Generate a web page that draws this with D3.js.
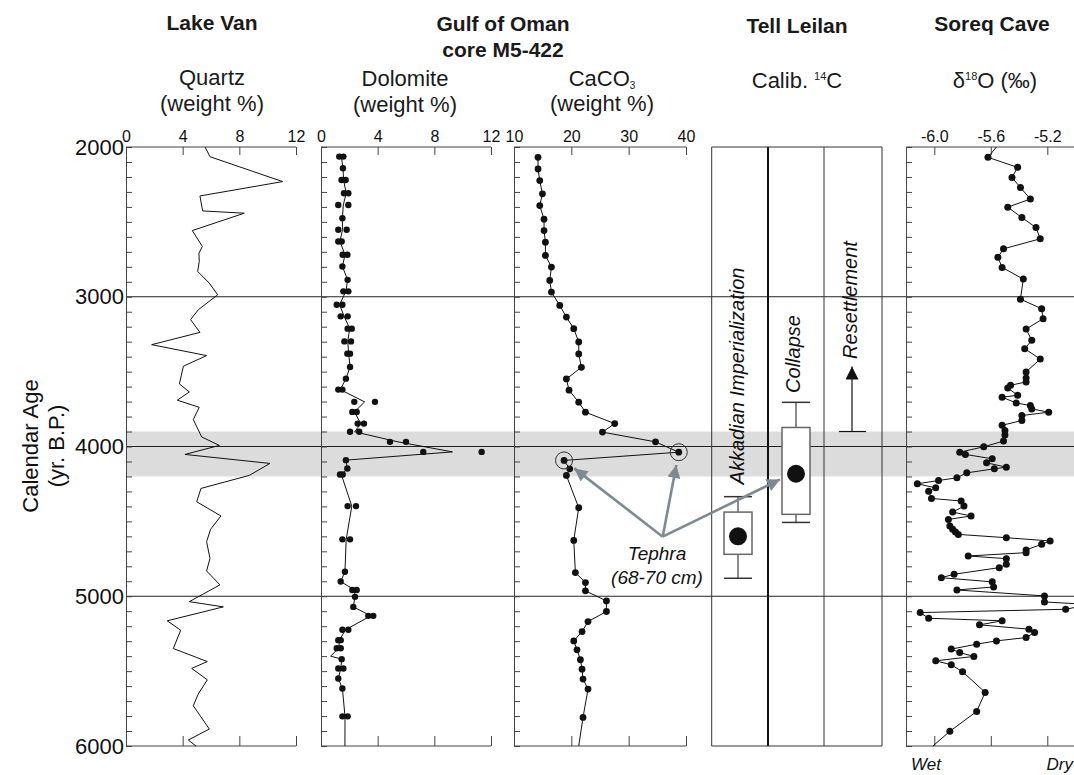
<!DOCTYPE html>
<html lang="en">
<head>
<meta charset="utf-8">
<title>Lake Van, Gulf of Oman, Tell Leilan, Soreq Cave</title>
<style>
  body { margin: 0; background: #fff; }
  svg { font-family: Arial, "Liberation Sans", sans-serif; }
</style>
</head>
<body>
<div id="chart"></div>
<script src="https://d3js.org/d3.v7.min.js"></script>
<script>
// ---- values (age in yr B.P.) ----
var ageLabels = [2000, 3000, 4000, 5000, 6000];
var ageMinor = d3.range(2000, 6001, 100);
var ageGuides = [3000, 4000, 5000];
var event42 = [3900, 4200];

// Lake Van quartz (line only)
var quartzAge = [2000, 2065, 2231, 2327, 2427, 2442, 2558, 2664, 2709, 2764, 2831, 2909, 2987, 3087, 3153, 3238, 3320, 3393, 3464, 3582, 3636, 3691, 3738, 3820, 3936, 3993, 4053, 4113, 4193, 4280, 4369, 4464, 4553, 4636, 4747, 4831, 4924, 5036, 5071, 5164, 5227, 5349, 5436, 5482, 5558, 5653, 5731, 5887, 5960, 6000];
var quartzPct = [5.58, 5.93, 11.06, 5.22, 5.41, 8.35, 4.68, 5.39, 5.15, 5.17, 5.06, 5.88, 6.47, 5.10, 4.56, 5.22, 1.81, 5.69, 4.05, 3.77, 4.47, 3.62, 5.17, 4.75, 5.34, 6.59, 4.16, 10.16, 8.70, 5.29, 4.99, 6.70, 5.97, 5.69, 5.93, 5.69, 6.63, 4.47, 6.87, 2.91, 3.86, 3.34, 5.74, 4.64, 5.74, 5.10, 4.75, 5.88, 4.40, 4.94];

// Gulf of Oman dolomite: two measurements per depth (null = single)
var dolAge = [2064, 2142, 2220, 2309, 2387, 2476, 2553, 2631, 2720, 2798, 2887, 2964, 3053, 3131, 3213, 3298, 3380, 3469, 3547, 3620, 3702, 3769, 3847, 3902, 3969, 4036, 4091, 4147, 4187, 4398, 4620, 4836, 4902, 4958, 5004, 5071, 5131, 5224, 5293, 5347, 5420, 5482, 5549, 5616, 5802];
var dolA = [1.29, 1.55, 1.45, 1.62, 1.22, 1.51, 1.22, 1.22, 1.53, 1.51, 1.88, 1.58, 1.11, 1.39, 1.88, 1.65, 1.86, 2.05, 1.76, 1.22, 2.35, 2.21, 2.59, 2.05, 4.87, 7.22, 1.76, 1.86, 1.34, 1.88, 1.51, 1.69, 1.39, 2.21, 2.40, 2.28, 3.34, 1.51, 1.22, 1.11, 1.46, 1.22, 1.22, 1.51, 1.51];
var dolB = [1.58, null, 1.74, 1.93, 1.93, null, 1.81, 1.46, 1.86, null, null, 1.93, 1.51, 1.88, 2.17, 2.12, 2.05, null, null, 1.51, 3.81, 2.52, 3.03, 2.70, 6.00, 11.34, null, null, 1.53, 2.47, 2.05, null, null, 2.52, null, null, 3.69, 1.93, 1.39, 1.39, null, 1.58, null, null, 1.88];
// line vertices with no dot
var dolLineExtra = [[5400, 0.68], [6000, 1.69]];

// Gulf of Oman CaCO3
var cacoAge = [2069, 2147, 2224, 2313, 2391, 2482, 2558, 2636, 2724, 2802, 2891, 2969, 3058, 3136, 3213, 3302, 3382, 3471, 3549, 3624, 3704, 3771, 3847, 3904, 3969, 4038, 4093, 4149, 4193, 4409, 4627, 4842, 4909, 4964, 5031, 5102, 5169, 5236, 5298, 5358, 5424, 5487, 5553, 5620, 5809];
var cacoPct = [14.19, 14.19, 14.49, 14.96, 14.49, 15.24, 15.24, 15.48, 15.48, 16.53, 16.23, 16.53, 17.98, 19.14, 20.42, 21.29, 21.29, 21.76, 19.14, 19.60, 21.29, 22.46, 27.57, 25.43, 34.68, 38.74, 18.73, 19.72, 19.14, 21.29, 20.42, 20.71, 22.46, 22.46, 26.12, 26.12, 22.91, 21.87, 20.42, 20.99, 21.58, 21.87, 22.04, 22.91, 22.04];
var cacoLineEnd = [6000, 21.29];
var tephraAge = [4038, 4093];

// Tell Leilan calibrated 14C ranges: [whiskerTop, boxTop, median, boxBottom, whiskerBottom]
var leilanNames = ["Akkadian Imperialization", "Collapse"];
var leilanStats = [[4335, 4438, 4600, 4720, 4880], [3705, 3873, 4182, 4453, 4507]];
var resettlement = [3900, 3465];

// Soreq Cave d18O
var soreqAge = [2069, 2136, 2204, 2271, 2347, 2402, 2471, 2538, 2613, 2680, 2736, 2804, 2882, 3016, 3080, 3147, 3216, 3291, 3347, 3416, 3502, 3542, 3569, 3591, 3609, 3658, 3671, 3709, 3727, 3749, 3771, 3793, 3827, 3858, 3893, 3924, 3964, 4002, 4038, 4053, 4082, 4109, 4138, 4149, 4176, 4209, 4227, 4249, 4276, 4298, 4347, 4364, 4398, 4438, 4464, 4487, 4531, 4553, 4571, 4587, 4609, 4631, 4653, 4691, 4709, 4731, 4749, 4787, 4809, 4853, 4876, 4904, 4938, 4958, 4998, 5038, 5055, 5087, 5109, 5147, 5164, 5191, 5220, 5242, 5276, 5298, 5320, 5353, 5376, 5402, 5431, 5458, 5504, 5642, 5769, 5902];
var soreqD18O = [-5.62, -5.41, -5.45, -5.39, -5.32, -5.48, -5.38, -5.28, -5.25, -5.51, -5.55, -5.52, -5.37, -5.39, -5.24, -5.23, -5.35, -5.31, -5.36, -5.25, -5.35, -5.35, -5.35, -5.46, -5.48, -5.41, -5.52, -5.42, -5.32, -5.31, -5.19, -5.38, -5.38, -5.52, -5.50, -5.50, -5.51, -5.65, -5.82, -5.78, -5.59, -5.63, -5.49, -5.575, -5.77, -5.84, -5.97, -6.12, -5.99, -6.04, -6.02, -5.81, -5.79, -5.87, -5.74, -5.90, -5.89, -5.87, -5.85, -5.83, -5.49, -5.18, -5.24, -5.35, -5.35, -5.76, -5.49, -5.49, -5.54, -5.86, -5.95, -5.59, -5.58, -5.84, -5.22, -5.22, -4.90, -5.07, -6.10, -6.04, -5.52, -5.68, -5.33, -5.29, -5.35, -5.56, -5.70, -5.88, -5.82, -5.72, -5.99, -5.88, -5.80, -5.64, -5.70, -5.89];
var soreqLineEnds = [[2000, -5.56], [6000, -6.01]];

// ---- layout ----
var W = 1074, H = 775;
var svg = d3.select("#chart").append("svg")
  .attr("width", W).attr("height", H);

var y = d3.scaleLinear().domain([2000, 6000]).range([147, 746]);

var xQuartz = d3.scaleLinear().domain([0, 12]).range([126, 296]);
var xDol = d3.scaleLinear().domain([0, 12]).range([321, 491]);
var xCaco = d3.scaleLinear().domain([10, 40]).range([514, 686]);
var xSoreq = d3.scaleLinear().domain([-6.0, -5.2]).range([934.3, 1047.3]);

var axisColor = "#444";

// shaded 4.2 ka band
svg.append("rect")
  .attr("x", 126).attr("width", W - 126)
  .attr("y", y(event42[0])).attr("height", y(event42[1]) - y(event42[0]))
  .attr("fill", "#dcdcdc");

// guide lines at 3000 / 4000 / 5000
svg.append("g").selectAll("line").data(ageGuides).join("line")
  .attr("x1", 126).attr("x2", W)
  .attr("y1", d => y(d)).attr("y2", d => y(d))
  .attr("stroke", "#222").attr("stroke-width", 1.2);

// age axis labels
svg.append("g")
  .attr("transform", "translate(126,0)")
  .call(d3.axisLeft(y).tickValues(ageLabels).tickSize(0).tickPadding(2).tickFormat(d3.format("d")))
  .call(g => g.select(".domain").remove())
  .selectAll("text").attr("font-size", 22).attr("fill", "#111")
  .attr("font-family", "Arial, 'Liberation Sans', sans-serif");

svg.append("text")
  .attr("transform", "translate(38,446) rotate(-90)")
  .attr("text-anchor", "middle").attr("font-size", 22).attr("fill", "#111")
  .text("Calendar Age");
svg.append("text")
  .attr("transform", "translate(64,446) rotate(-90)")
  .attr("text-anchor", "middle").attr("font-size", 22).attr("fill", "#111")
  .text("(yr. B.P.)");

function hyphen(f) {
  return d => f(d).replace("\u2212", "-");
}

// one panel frame: left age axis, top labelled axis, bottom ticks
function frame(x, left, right, topVals, bottomVals, fmt) {
  var g = svg.append("g");
  g.append("g")
    .attr("transform", "translate(" + left + ",0)")
    .call(d3.axisRight(y).tickValues(ageMinor).tickSize(6).tickSizeOuter(0).tickFormat(""))
    .call(a => a.selectAll("path,line").attr("stroke", axisColor));

  g.append("g")
    .attr("transform", "translate(0," + y(2000) + ")")
    .call(d3.axisTop(x).tickValues(topVals).tickSize(-8).tickPadding(5).tickFormat(fmt))
    .call(a => a.select(".domain").remove())
    .call(a => a.selectAll("line").attr("stroke", axisColor))
    .call(a => a.selectAll("text").attr("font-size", 16).attr("fill", "#111")
      .attr("font-family", "Arial, 'Liberation Sans', sans-serif"));

  g.append("g")
    .attr("transform", "translate(0," + y(6000) + ")")
    .call(d3.axisTop(x).tickValues(bottomVals).tickSize(10).tickFormat(""))
    .call(a => a.select(".domain").remove())
    .call(a => a.selectAll("line").attr("stroke", axisColor));

  [y(2000), y(6000)].forEach(function (yy) {
    g.append("line").attr("x1", left).attr("x2", right)
      .attr("y1", yy).attr("y2", yy).attr("stroke", axisColor);
  });
}

frame(xQuartz, 126, 296, [0, 4, 8, 12], [4, 8, 12], d3.format("d"));
frame(xDol, 321, 491, [0, 4, 8, 12], [4, 8, 12], d3.format("d"));
frame(xCaco, 514, 686, [10, 20, 30, 40], [20, 30, 40], d3.format("d"));
frame(xSoreq, xSoreq(-6.2), W, [-6.0, -5.6, -5.2], [-6.0, -5.6, -5.2], hyphen(d3.format(".1f")));

// ---- series ----
function drawLine(pts, x) {
  svg.append("path")
    .datum(pts)
    .attr("fill", "none").attr("stroke", "#111").attr("stroke-width", 1)
    .attr("d", d3.line().x(d => x(d[1])).y(d => y(d[0])));
}
function drawDots(pts, x, r) {
  svg.append("g").selectAll("circle").data(pts).join("circle")
    .attr("cx", d => x(d[1])).attr("cy", d => y(d[0])).attr("r", r)
    .attr("fill", "#111");
}

// quartz
drawLine(d3.zip(quartzAge, quartzPct), xQuartz);

// dolomite
var dolDots = [];
dolAge.forEach(function (a, i) {
  dolDots.push([a, dolA[i]]);
  if (dolB[i] !== null) dolDots.push([a, dolB[i]]);
});
var dolMean = dolAge.map((a, i) => [a, dolB[i] === null ? dolA[i] : (dolA[i] + dolB[i]) / 2]);
var dolLine = dolMean.concat(dolLineExtra).sort((p, q) => p[0] - q[0]);
drawLine(dolLine, xDol);
drawDots(dolDots, xDol, 3.2);

// CaCO3
var caco = d3.zip(cacoAge, cacoPct);
drawLine(caco.concat([cacoLineEnd]), xCaco);
drawDots(caco, xCaco, 3.4);
svg.append("g").selectAll("circle").data(caco.filter(d => tephraAge.includes(d[0]))).join("circle")
  .attr("cx", d => xCaco(d[1])).attr("cy", d => y(d[0])).attr("r", 8.5)
  .attr("fill", "none").attr("stroke", "#333").attr("stroke-width", 1);

// Soreq
var soreq = d3.zip(soreqAge, soreqD18O);
svg.append("clipPath").attr("id", "soreqClip")
  .append("rect").attr("x", xSoreq(-6.2)).attr("y", 140).attr("width", W - xSoreq(-6.2)).attr("height", 620);
var soreqG = svg.append("g").attr("clip-path", "url(#soreqClip)");
soreqG.append("path")
  .datum([soreqLineEnds[0]].concat(soreq, [soreqLineEnds[1]]))
  .attr("fill", "none").attr("stroke", "#111").attr("stroke-width", 1)
  .attr("d", d3.line().x(d => xSoreq(d[1])).y(d => y(d[0])));
soreqG.selectAll("circle").data(soreq).join("circle")
  .attr("cx", d => xSoreq(d[1])).attr("cy", d => y(d[0])).attr("r", 3.5)
  .attr("fill", "#111");

// ---- Tell Leilan column ----
var leilanX = [711.7, 768, 824, 882];
svg.append("g").selectAll("line").data(leilanX).join("line")
  .attr("x1", d => d).attr("x2", d => d)
  .attr("y1", y(2000)).attr("y2", y(6000))
  .attr("stroke", (d, i) => i === 1 ? "#111" : "#333")
  .attr("stroke-width", (d, i) => i === 1 ? 2 : 1);
[y(2000), y(6000)].forEach(function (yy) {
  svg.append("line").attr("x1", leilanX[0]).attr("x2", leilanX[3])
    .attr("y1", yy).attr("y2", yy).attr("stroke", "#333");
});

var boxCx = [738, 796];
var boxHalf = 14;
leilanStats.forEach(function (s, i) {
  var cx = boxCx[i];
  var g = svg.append("g");
  g.append("line").attr("x1", cx).attr("x2", cx).attr("y1", y(s[0])).attr("y2", y(s[4]))
    .attr("stroke", "#666").attr("stroke-width", 1.5);
  [s[0], s[4]].forEach(function (v) {
    g.append("line").attr("x1", cx - boxHalf).attr("x2", cx + boxHalf)
      .attr("y1", y(v)).attr("y2", y(v)).attr("stroke", "#333").attr("stroke-width", 1.5);
  });
  g.append("rect").attr("x", cx - boxHalf).attr("width", boxHalf * 2)
    .attr("y", y(s[1])).attr("height", y(s[3]) - y(s[1]))
    .attr("fill", "#fff").attr("stroke", "#666").attr("stroke-width", 1.5);
  g.append("circle").attr("cx", cx).attr("cy", y(s[2])).attr("r", 9).attr("fill", "#111");
});

// Resettlement arrow
var defs = svg.append("defs");
defs.append("marker").attr("id", "headBlack")
  .attr("viewBox", "0 0 10 10").attr("refX", 10).attr("refY", 5)
  .attr("markerUnits", "userSpaceOnUse").attr("markerWidth", 26).attr("markerHeight", 13)
  .attr("orient", "auto")
  .append("path").attr("d", "M0,0L10,5L0,10Z").attr("fill", "#111");
defs.append("marker").attr("id", "headGrey")
  .attr("viewBox", "0 0 10 10").attr("refX", 10).attr("refY", 5)
  .attr("markerUnits", "userSpaceOnUse").attr("markerWidth", 16).attr("markerHeight", 13)
  .attr("orient", "auto")
  .append("path").attr("d", "M0,0L10,5L0,10Z").attr("fill", "#7b8b91");

var resX = 852;
svg.append("line").attr("x1", resX - 13).attr("x2", resX + 14)
  .attr("y1", y(resettlement[0])).attr("y2", y(resettlement[0]))
  .attr("stroke", "#111").attr("stroke-width", 1.2);
svg.append("line").attr("x1", resX).attr("x2", resX)
  .attr("y1", y(resettlement[0])).attr("y2", y(resettlement[1]))
  .attr("stroke", "#111").attr("stroke-width", 1.2)
  .attr("marker-end", "url(#headBlack)");

// rotated labels in the Tell Leilan column
function vlabel(text, x, yMid) {
  svg.append("text")
    .attr("transform", "translate(" + x + "," + yMid + ") rotate(-90)")
    .attr("text-anchor", "middle").attr("font-size", 20).attr("font-style", "italic")
    .attr("fill", "#111").text(text);
}
vlabel(leilanNames[0], 744, 376);
vlabel(leilanNames[1], 800, 354);
vlabel("Resettlement", 857, 300);

// Tephra arrows
var apex = [662.7, 536.7];
var targets = caco.filter(d => tephraAge.includes(d[0])).map(function (d) {
  var cx = xCaco(d[1]), cy = y(d[0]);
  var dx = apex[0] - cx, dy = apex[1] - cy, len = Math.hypot(dx, dy);
  return [cx + dx / len * 13, cy + dy / len * 13];
});
targets.push([boxCx[1] - boxHalf - 2, y(4220)]);
svg.append("g").selectAll("line").data(targets).join("line")
  .attr("x1", apex[0]).attr("y1", apex[1])
  .attr("x2", d => d[0]).attr("y2", d => d[1])
  .attr("stroke", "#7b8b91").attr("stroke-width", 2.6)
  .attr("marker-end", "url(#headGrey)");

svg.append("text").attr("x", 657).attr("y", 560)
  .attr("text-anchor", "middle").attr("font-size", 19).attr("font-style", "italic")
  .attr("fill", "#111").text("Tephra");
svg.append("text").attr("x", 657).attr("y", 584)
  .attr("text-anchor", "middle").attr("font-size", 19).attr("font-style", "italic")
  .attr("fill", "#111").text("(68-70 cm)");

// Wet / Dry
svg.append("text").attr("x", 911).attr("y", 770)
  .attr("font-size", 17).attr("font-style", "italic").attr("fill", "#111").text("Wet");
svg.append("text").attr("x", 1073).attr("y", 770).attr("text-anchor", "end")
  .attr("font-size", 17).attr("font-style", "italic").attr("fill", "#111").text("Dry");

// ---- headings ----
function heading(lines, cx, y0, size, weight) {
  lines.forEach(function (t, i) {
    svg.append("text").attr("x", cx).attr("y", y0 + i * 26)
      .attr("text-anchor", "middle").attr("font-size", size)
      .attr("font-weight", weight).attr("fill", "#1a1a1a").text(t);
  });
}
heading(["Lake Van"], 212, 30, 21, "bold");
heading(["Gulf of Oman", "core M5-422"], 503, 31, 21, "bold");
heading(["Tell Leilan"], 797, 33, 21, "bold");
heading(["Soreq Cave"], 992, 31, 21, "bold");

heading(["Quartz", "(weight %)"], 212, 85, 22, "normal");
heading(["Dolomite", "(weight %)"], 405, 86, 22, "normal");

var caco3 = svg.append("text").attr("x", 602).attr("y", 86)
  .attr("text-anchor", "middle").attr("font-size", 22).attr("fill", "#1a1a1a");
caco3.append("tspan").text("CaCO");
caco3.append("tspan").attr("font-size", 10).attr("dy", 3).text("3");
heading(["(weight %)"], 602, 111, 22, "normal");

var calib = svg.append("text").attr("x", 797).attr("y", 88)
  .attr("text-anchor", "middle").attr("font-size", 22).attr("fill", "#1a1a1a");
calib.append("tspan").text("Calib. ");
calib.append("tspan").attr("font-size", 11).attr("dy", -8).text("14");
calib.append("tspan").attr("dy", 8).text("C");

var d18 = svg.append("text").attr("x", 995).attr("y", 88)
  .attr("text-anchor", "middle").attr("font-size", 22).attr("fill", "#1a1a1a");
d18.append("tspan").text("\u03b4");
d18.append("tspan").attr("font-size", 11).attr("dy", -8).text("18");
d18.append("tspan").attr("dy", 8).text("O (\u2030)");
</script>
</body>
</html>
